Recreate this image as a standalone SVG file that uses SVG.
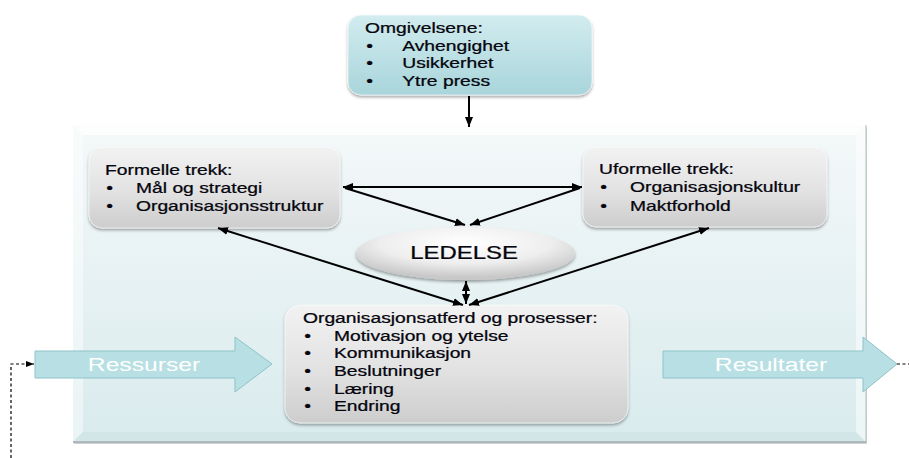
<svg xmlns="http://www.w3.org/2000/svg" width="909" height="458" viewBox="0 0 909 458">
  <defs>
    <linearGradient id="frameFill" x1="0" y1="0" x2="0" y2="1">
      <stop offset="0" stop-color="#f4f8f9"/>
      <stop offset="1" stop-color="#d9ebed"/>
    </linearGradient>
    <linearGradient id="grayBox" x1="0" y1="0" x2="0" y2="1">
      <stop offset="0" stop-color="#f2f2f2"/>
      <stop offset="0.55" stop-color="#e2e2e2"/>
      <stop offset="1" stop-color="#cdcdcd"/>
    </linearGradient>
    <linearGradient id="cyanBox" x1="0" y1="0" x2="0" y2="1">
      <stop offset="0" stop-color="#d2ecef"/>
      <stop offset="1" stop-color="#a8d5db"/>
    </linearGradient>
    <radialGradient id="ovalFill" cx="0.5" cy="0.3" r="0.65">
      <stop offset="0" stop-color="#ffffff"/>
      <stop offset="0.6" stop-color="#eeeeee"/>
      <stop offset="1" stop-color="#c8c8c8"/>
    </radialGradient>
    <filter id="shadow" x="-10%" y="-10%" width="120%" height="130%">
      <feDropShadow dx="0" dy="2" stdDeviation="1.6" flood-color="#000" flood-opacity="0.35"/>
    </filter>
    <marker id="head" viewBox="0 0 10 8" refX="10" refY="4" markerWidth="10" markerHeight="8" markerUnits="userSpaceOnUse" orient="auto-start-reverse">
      <path d="M0,0 L10,4 L0,8 z" fill="#000"/>
    </marker>
    <marker id="smallHead" viewBox="0 0 8 6" refX="8" refY="3" markerWidth="8" markerHeight="6" markerUnits="userSpaceOnUse" orient="auto">
      <path d="M0,0 L8,3 L0,6 z" fill="#000"/>
    </marker>
  </defs>
  <style>
    .txt { font-family: "Liberation Sans", Arial, sans-serif; font-size: 14.5px; fill: #05050d; stroke: #05050d; stroke-width: 0.25; }
    .big { font-family: "Liberation Sans", Arial, sans-serif; font-size: 18px; }
    .flowTxt { fill: #ffffff; text-anchor: middle; }
    .box { stroke: #ffffff; stroke-opacity: 0.6; stroke-width: 1; filter: url(#shadow); }
    .gray { fill: url(#grayBox); }
    .flow { fill: #b8dfe3; stroke: #8fc3ca; stroke-width: 1; }
    .conn { stroke: #000; stroke-width: 2; fill: none; }
    .dash { stroke: #000; stroke-width: 1.2; fill: none; stroke-dasharray: 3 2.5; }
  </style>

  <!-- organisation frame with bevelled edges -->
  <g id="frame">
    <rect x="74" y="127" width="793" height="317" fill="#9aa5a7" opacity="0.5"/>
    <rect x="73" y="125" width="793" height="317" fill="url(#frameFill)"/>
    <polygon points="73,125 866,125 856,135 83,135" fill="#ffffff" opacity="0.7"/>
    <polygon points="73,125 83,135 83,432 73,442" fill="#ffffff" opacity="0.45"/>
    <polygon points="73,442 83,432 856,432 866,442" fill="#cfe3e5" opacity="0.8"/>
    <polygon points="866,125 866,442 856,432 856,135" fill="#ffffff" opacity="0.5"/>
    <line x1="866" y1="125" x2="866" y2="442" stroke="#b8c2c4" stroke-width="1"/>
    <line x1="73" y1="442" x2="866" y2="442" stroke="#a5adaf" stroke-width="1.5"/>
  </g>

  <!-- input / output flows -->
  <g id="ressurser">
    <polygon class="flow" points="35,351 235,351 235,337 272,364 235,392 235,378 35,378"/>
    <text class="big flowTxt" transform="translate(144,0) scale(1.37,1)" x="0" y="371">Ressurser</text>
  </g>
  <g id="resultater">
    <polygon class="flow" points="663,351 863,351 863,337 897,364 863,392 863,378 663,378"/>
    <text class="big flowTxt" transform="translate(771,0) scale(1.37,1)" x="0" y="371">Resultater</text>
  </g>

  <!-- environment -->
  <g id="omgivelsene">
    <rect class="box" x="348" y="15" width="244" height="80" rx="13" fill="url(#cyanBox)"/>
    <g class="txt" transform="translate(365,0) scale(1.33,1)">
      <text x="0" y="33">Omgivelsene:</text>
      <text x="1" y="51">•</text><text x="28" y="51">Avhengighet</text>
      <text x="1" y="68.5">•</text><text x="28" y="68.5">Usikkerhet</text>
      <text x="1" y="86">•</text><text x="28" y="86">Ytre press</text>
    </g>
  </g>

  <g id="formelle">
    <rect class="box gray" x="89" y="147" width="251" height="81" rx="13"/>
    <g class="txt" transform="translate(105,0) scale(1.33,1)">
      <text x="0" y="175">Formelle trekk:</text>
      <text x="1" y="193">•</text><text x="23.3" y="193">Mål og strategi</text>
      <text x="1" y="211">•</text><text x="23.3" y="211">Organisasjonsstruktur</text>
    </g>
  </g>

  <g id="uformelle">
    <rect class="box gray" x="583" y="147" width="244" height="80" rx="13"/>
    <g class="txt" transform="translate(599,0) scale(1.33,1)">
      <text x="0" y="174">Uformelle trekk:</text>
      <text x="1" y="192.5">•</text><text x="23.3" y="192.5">Organisasjonskultur</text>
      <text x="1" y="211">•</text><text x="23.3" y="211">Maktforhold</text>
    </g>
  </g>

  <g id="ledelse">
    <ellipse cx="465.5" cy="253.5" rx="109.5" ry="26.5" fill="url(#ovalFill)" filter="url(#shadow)"/>
    <text class="big" fill="#05050d" stroke="#05050d" stroke-width="0.25" text-anchor="middle" transform="translate(464,0) scale(1.33,1)" x="0" y="259">LEDELSE</text>
  </g>

  <g id="prosesser">
    <rect class="box gray" x="285" y="305" width="343" height="118" rx="15"/>
    <g class="txt" transform="translate(303,0) scale(1.33,1)">
      <text x="0" y="323">Organisasjonsatferd og prosesser:</text>
      <text x="1" y="341">•</text><text x="23.3" y="341">Motivasjon og ytelse</text>
      <text x="1" y="358.5">•</text><text x="23.3" y="358.5">Kommunikasjon</text>
      <text x="1" y="376">•</text><text x="23.3" y="376">Beslutninger</text>
      <text x="1" y="394">•</text><text x="23.3" y="394">Læring</text>
      <text x="1" y="411.5">•</text><text x="23.3" y="411.5">Endring</text>
    </g>
  </g>

  <!-- connectors -->
  <g id="connectors">
    <path class="conn" d="M469,96 L469,127" marker-end="url(#head)"/>
    <path class="conn" d="M343,187 L582,187" marker-start="url(#head)" marker-end="url(#head)"/>
    <path class="conn" d="M345,188 L465,225" marker-end="url(#head)"/>
    <path class="conn" d="M580,188 L470,225" marker-end="url(#head)"/>
    <path class="conn" d="M218,228 L463,305" marker-start="url(#head)" marker-end="url(#head)"/>
    <path class="conn" d="M709,228 L469,305" marker-start="url(#head)" marker-end="url(#head)"/>
    <path class="conn" d="M466,281 L466,304" marker-start="url(#head)" marker-end="url(#head)"/>
    <path class="dash" d="M897,364 L909,364"/>
    <path class="dash" d="M11,458 L11,364 L34,364" marker-end="url(#smallHead)"/>
  </g>
</svg>
